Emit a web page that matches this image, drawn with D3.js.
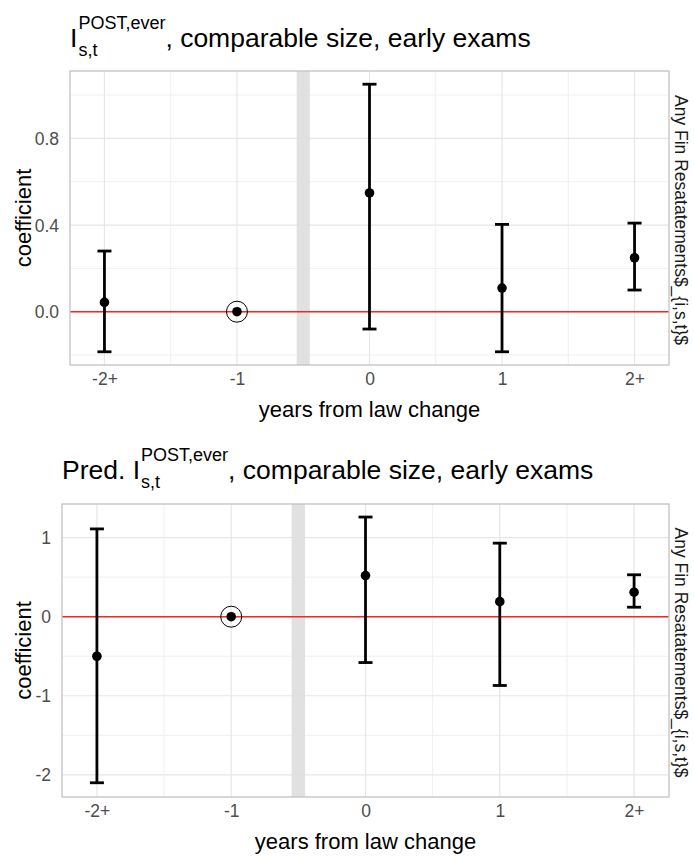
<!DOCTYPE html>
<html>
<head>
<meta charset="utf-8">
<script src="https://cdn.jsdelivr.net/npm/d3@7"></script>
<style>
  html, body { margin: 0; padding: 0; background: #ffffff; }
  svg { display: block; }
  text { font-family: "Liberation Sans", Arial, sans-serif; white-space: pre; }
</style>
</head>
<body>
<svg id="chart" width="694" height="857"></svg>
<script>
// Event-study coefficients by years from the law change
const categories = ["-2+", "-1", "0", "1", "2+"];
const eventTime = [-2, -1, 0, 1, 2];

// Panel 1: I^{POST,ever}
const estTop = [0.043, 0, 0.548, 0.109, 0.249];
const lowTop = [-0.185, 0, -0.080, -0.185, 0.100];
const highTop = [0.280, 0, 1.050, 0.403, 0.409];

// Panel 2: predicted I^{POST,ever}
const estBottom = [-0.50, 0, 0.52, 0.19, 0.31];
const lowBottom = [-2.10, 0, -0.58, -0.87, 0.12];
const highBottom = [1.11, 0, 1.26, 0.93, 0.53];

// Axis breaks and their labels
const yTicksTop = [0.0, 0.4, 0.8];
const yLabelsTop = ["0.0", "0.4", "0.8"];
const yMinorTop = [-0.2, 0.2, 0.6, 1.0];
const yTicksBottom = [-2, -1, 0, 1];
const yLabelsBottom = ["-2", "-1", "0", "1"];
const yMinorBottom = [-1.5, -0.5, 0.5];
const xMinor = [-1.5, -0.5, 0.5, 1.5];

const stripLabel = "Any Fin Resatatements$_{i,s,t}$";
const xTitle = "years from law change";
const yTitle = "coefficient";

const svg = d3.select("#chart");

const TICK_FONT = "17.5px";
const AXIS_TITLE_FONT = "22px";
const TITLE_FONT = 26.5;
const SCRIPT_FONT = 18;

function drawPanel(opt) {
  const g = svg.append("g");
  const x = d3.scaleLinear().domain([-2.26, 2.26]).range([opt.left, opt.right]);
  const y = d3.scaleLinear().domain(opt.yDomain).range([opt.bottom, opt.top]);

  // background
  g.append("rect")
    .attr("x", opt.left).attr("y", opt.top)
    .attr("width", opt.right - opt.left).attr("height", opt.bottom - opt.top)
    .attr("fill", "#ffffff");

  // minor grid
  g.selectAll(".ymin").data(opt.yMinor).join("line")
    .attr("x1", opt.left).attr("x2", opt.right)
    .attr("y1", d => y(d)).attr("y2", d => y(d))
    .attr("stroke", "#efefef").attr("stroke-width", 1);
  g.selectAll(".xmin").data(xMinor).join("line")
    .attr("y1", opt.top).attr("y2", opt.bottom)
    .attr("x1", d => x(d)).attr("x2", d => x(d))
    .attr("stroke", "#efefef").attr("stroke-width", 1);
  // major grid
  g.selectAll(".ymaj").data(opt.yTicks).join("line")
    .attr("x1", opt.left).attr("x2", opt.right)
    .attr("y1", d => y(d)).attr("y2", d => y(d))
    .attr("stroke", "#e6e6e6").attr("stroke-width", 1.2);
  g.selectAll(".xmaj").data(eventTime).join("line")
    .attr("y1", opt.top).attr("y2", opt.bottom)
    .attr("x1", d => x(d)).attr("x2", d => x(d))
    .attr("stroke", "#e6e6e6").attr("stroke-width", 1.2);

  // law-change marker band between -1 and 0
  g.append("rect")
    .attr("x", x(-0.55)).attr("y", opt.top)
    .attr("width", x(-0.45) - x(-0.55)).attr("height", opt.bottom - opt.top)
    .attr("fill", "#dedede").attr("opacity", 0.9);

  // zero reference line
  g.append("line")
    .attr("x1", opt.left).attr("x2", opt.right)
    .attr("y1", y(0)).attr("y2", y(0))
    .attr("stroke", "#ff2020").attr("stroke-width", 1.4);

  const rows = eventTime.map((t, i) => ({ t, est: opt.est[i], lo: opt.low[i], hi: opt.high[i], ref: t === -1 }));

  // error bars
  const bars = rows.filter(d => !d.ref);
  g.selectAll(".bar").data(bars).join("line")
    .attr("x1", d => x(d.t)).attr("x2", d => x(d.t))
    .attr("y1", d => y(d.lo)).attr("y2", d => y(d.hi))
    .attr("stroke", "#000").attr("stroke-width", 2.8);
  ["lo", "hi"].forEach(k => {
    g.selectAll(".cap-" + k).data(bars).join("line")
      .attr("x1", d => x(d.t) - 7).attr("x2", d => x(d.t) + 7)
      .attr("y1", d => y(d[k])).attr("y2", d => y(d[k]))
      .attr("stroke", "#000").attr("stroke-width", 2.8);
  });

  // point estimates
  g.selectAll(".pt").data(rows).join("circle")
    .attr("cx", d => x(d.t)).attr("cy", d => y(d.est))
    .attr("r", 4.8).attr("fill", "#000");
  // reference period ring
  g.selectAll(".ring").data(rows.filter(d => d.ref)).join("circle")
    .attr("cx", d => x(d.t)).attr("cy", d => y(d.est))
    .attr("r", 10.5).attr("fill", "none").attr("stroke", "#000").attr("stroke-width", 1);

  // panel border
  g.append("rect")
    .attr("x", opt.left).attr("y", opt.top)
    .attr("width", opt.right - opt.left).attr("height", opt.bottom - opt.top)
    .attr("fill", "none").attr("stroke", "#c2c2c2").attr("stroke-width", 1.3);

  // y axis labels
  const yAxis = d3.axisLeft(y).tickValues(opt.yTicks)
    .tickFormat((d, i) => opt.yLabels[i]).tickSize(0).tickPadding(0);
  const ya = g.append("g").attr("transform", `translate(${opt.left - 11},0)`).call(yAxis);
  ya.select(".domain").remove();
  ya.selectAll("text").attr("fill", "#4d4d4d").style("font-size", TICK_FONT)
    .style("font-family", "'Liberation Sans', Arial, sans-serif").attr("dy", "0.35em");

  // x axis labels
  const xAxis = d3.axisBottom(x).tickValues(eventTime).tickFormat((d, i) => categories[i]).tickSize(0).tickPadding(0);
  const xa = g.append("g").attr("transform", `translate(0,${opt.bottom + 8})`).call(xAxis);
  xa.select(".domain").remove();
  xa.selectAll("text").attr("fill", "#4d4d4d").style("font-size", TICK_FONT)
    .style("font-family", "'Liberation Sans', Arial, sans-serif").attr("dy", "0.71em");

  // axis titles
  g.append("text")
    .attr("x", (opt.left + opt.right) / 2).attr("y", opt.bottom + 52)
    .attr("text-anchor", "middle").attr("fill", "#000").style("font-size", AXIS_TITLE_FONT)
    .text(xTitle);
  g.append("text")
    .attr("transform", `translate(31,${(opt.top + opt.bottom) / 2}) rotate(-90)`)
    .attr("text-anchor", "middle").attr("fill", "#000").style("font-size", AXIS_TITLE_FONT)
    .text(yTitle);

  // facet strip label on the right
  g.append("text")
    .attr("transform", `translate(675,${(opt.top + opt.bottom) / 2 + 2}) rotate(90)`)
    .attr("text-anchor", "middle").attr("fill", "#1a1a1a").style("font-size", TICK_FONT)
    .text(stripLabel);

  // title: [prefix] I^{POST,ever}_{s,t}, rest
  const tg = g.append("g");
  let cx = opt.left;
  const base = opt.titleY;
  if (opt.prefix) {
    const p = tg.append("text").attr("x", cx).attr("y", base)
      .style("font-size", TITLE_FONT + "px").attr("fill", "#000").text(opt.prefix);
    cx += p.node().getComputedTextLength();
  }
  const iT = tg.append("text").attr("x", cx).attr("y", base)
    .style("font-size", TITLE_FONT + "px").attr("fill", "#000").text("I");
  cx += iT.node().getComputedTextLength() + 1;
  const sup = tg.append("text").attr("x", cx).attr("y", base - 18)
    .style("font-size", SCRIPT_FONT + "px").attr("fill", "#000").text("POST,ever");
  const sub = tg.append("text").attr("x", cx).attr("y", base + 9)
    .style("font-size", SCRIPT_FONT + "px").attr("fill", "#000").text("s,t");
  cx += Math.max(sup.node().getComputedTextLength(), sub.node().getComputedTextLength());
  tg.append("text").attr("x", cx).attr("y", base)
    .style("font-size", TITLE_FONT + "px").attr("fill", "#000").text(opt.rest);
}

drawPanel({
  left: 70, right: 669, top: 71, bottom: 365,
  yDomain: [-0.246, 1.111],
  yTicks: yTicksTop, yLabels: yLabelsTop, yMinor: yMinorTop,
  est: estTop, low: lowTop, high: highTop,
  titleY: 47, prefix: "", rest: ", comparable size, early exams"
});

drawPanel({
  left: 62, right: 669, top: 504, bottom: 797,
  yDomain: [-2.28, 1.425],
  yTicks: yTicksBottom, yLabels: yLabelsBottom, yMinor: yMinorBottom,
  est: estBottom, low: lowBottom, high: highBottom,
  titleY: 479, prefix: "Pred. ", rest: ", comparable size, early exams"
});
</script>
</body>
</html>
